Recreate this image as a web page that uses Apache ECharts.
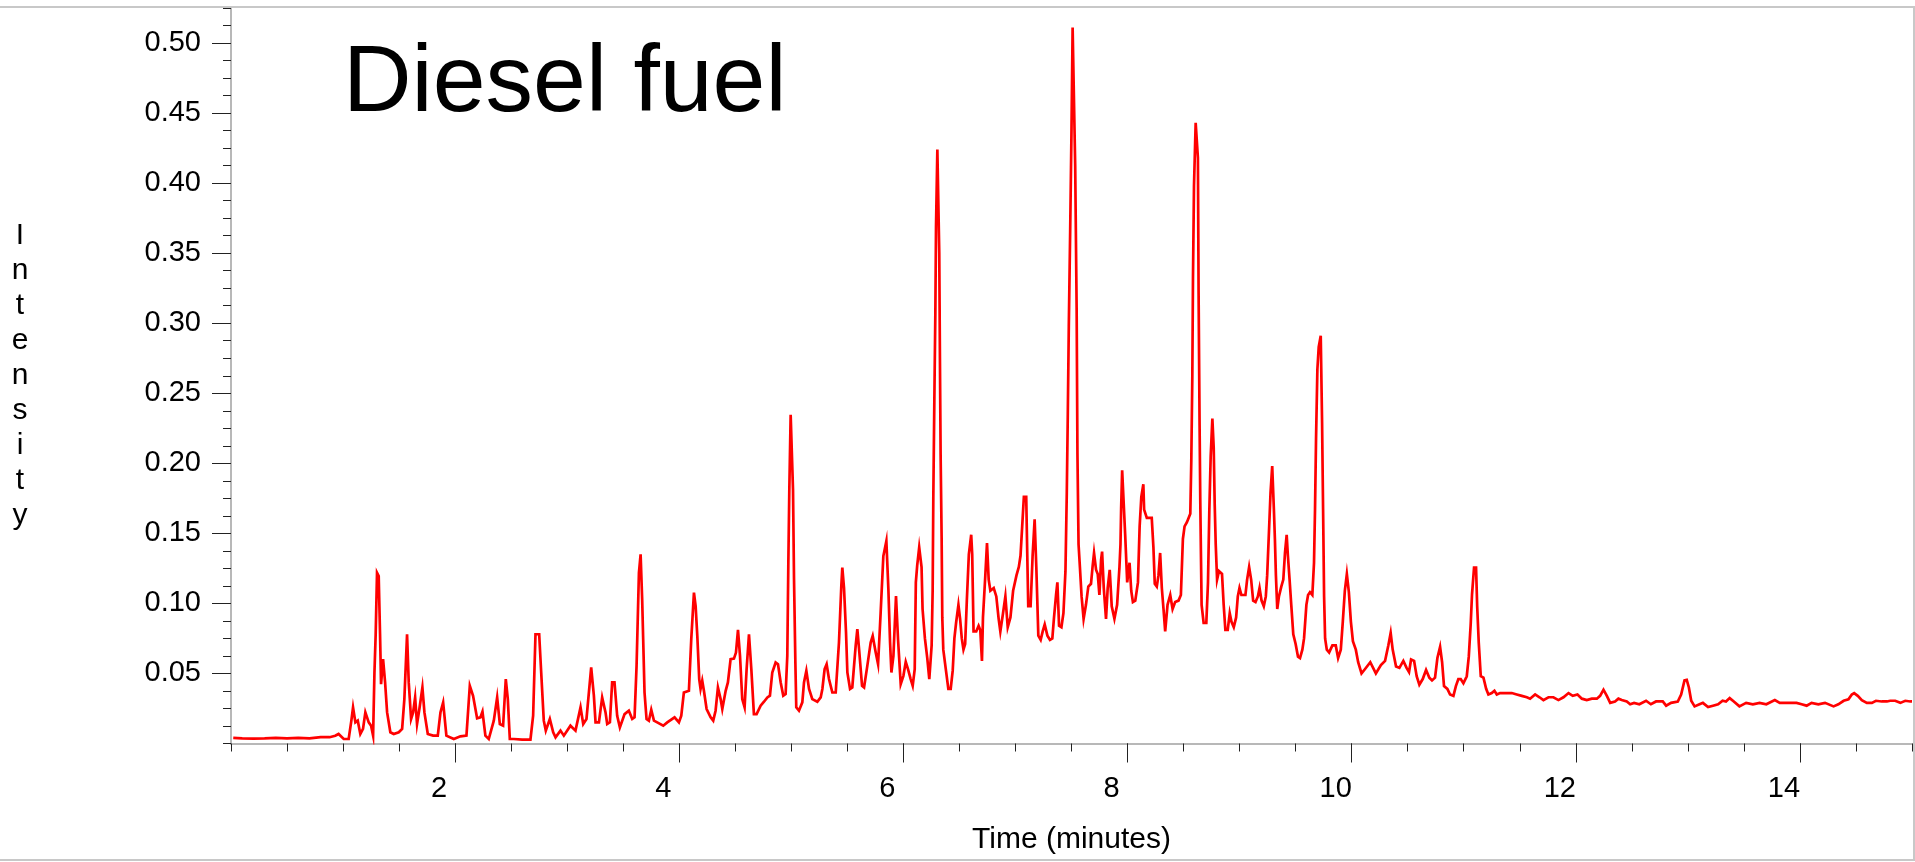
<!DOCTYPE html>
<html>
<head>
<meta charset="utf-8">
<script src="https://cdn.jsdelivr.net/npm/echarts@6/dist/echarts.min.js"></script>
<style>
html,body{margin:0;padding:0;background:#fff;}
#chart{width:1915px;height:862px;}
</style>
</head>
<body>
<div id="chart"></div>
<script>
// Retention time (minutes)
const times = [
0.02,0.10,0.20,0.30,0.40,0.50,0.60,0.70,0.80,0.88,0.93,0.96,
0.976,1.006,1.050,1.074,1.089,1.110,1.131,1.154,1.178,1.199,1.229,1.250,1.268,1.280,1.291,1.303,1.318,1.330,1.339,1.357,1.375,1.393,1.422,1.452,1.497,1.527,1.547,1.571,1.586,1.607,1.625,1.643,1.660,1.681,1.708,1.726,1.756,1.803,1.845,1.869,1.893,1.922,1.988,2.047,2.101,2.131,2.160,2.196,2.226,2.244,2.270,2.300,2.345,2.375,2.399,2.428,2.452,2.470,2.488,2.524,2.598,2.672,2.696,2.717,2.750,2.768,2.791,2.809,2.845,2.875,2.896,2.940,2.970,3.029,3.074,3.119,3.143,3.172,3.214,3.238,3.253,3.283,3.312,3.342,3.357,3.381,3.401,3.422,3.446,3.470,
3.476,3.512,3.550,3.580,3.601,3.619,3.640,3.655,3.669,3.678,3.690,3.708,3.729,3.750,3.774,3.803,3.857,3.893,3.958,3.997,4.018,4.041,4.086,4.107,4.131,4.146,4.161,4.178,4.190,4.205,4.220,4.244,4.280,4.303,4.324,4.345,4.369,4.384,4.414,4.434,4.458,4.488,4.506,4.524,4.542,4.562,4.583,4.601,4.622,4.643,4.666,4.690,4.726,4.756,4.786,4.809,4.830,4.860,4.881,4.905,4.928,4.949,4.964,4.973,4.982,4.994,5.006,5.015,5.024,5.036,5.044,5.068,5.098,5.113,5.134,5.158,5.187,5.232,5.262,5.277,5.297,5.315,5.336,5.366,5.396,5.425,5.446,5.455,5.470,5.488,5.500,5.524,5.544,5.574,5.589,5.607,5.631,5.649,5.678,5.708,5.726,5.753,5.774,5.797,5.821,5.848,5.866,5.881,5.893,5.911,5.934,5.952,5.976,6.000,6.021,6.041,6.065,6.083,6.101,
6.111,6.123,6.141,6.162,6.171,6.192,6.213,6.231,6.243,6.252,6.261,6.267,6.276,6.285,6.291,6.303,6.315,6.320,6.326,6.332,6.341,6.347,6.356,6.380,6.401,6.422,6.440,6.455,6.470,6.491,6.506,6.521,6.536,6.551,6.566,6.584,6.605,6.614,6.626,6.650,6.671,6.686,6.701,6.710,6.731,6.746,6.761,6.776,6.806,6.829,6.850,6.865,6.889,6.910,6.931,6.955,6.979,7.009,7.030,7.045,7.060,7.075,7.096,7.105,7.114,7.135,7.153,7.171,7.186,7.204,7.225,7.243,7.261,7.285,7.308,7.329,7.344,7.362,7.374,7.389,7.410,7.428,7.446,7.458,7.467,7.476,7.488,7.500,7.510,7.520,7.533,7.546,7.553,7.563,7.575,7.590,7.608,7.629,7.650,7.674,7.689,7.701,7.719,7.734,7.749,7.764,7.773,7.788,7.808,7.823,7.841,7.859,7.883,7.907,7.928,7.937,7.943,7.952,7.967,7.979,7.997,8.018,8.033,8.048,8.069,8.093,8.108,8.123,8.141,
8.148,8.172,8.216,8.231,8.243,8.261,8.276,8.291,8.306,8.321,8.336,8.357,8.381,8.402,8.425,8.455,8.476,8.494,8.509,8.530,8.545,8.560,8.569,8.578,8.584,8.593,8.608,8.619,8.628,8.634,8.643,8.649,8.655,8.661,8.679,8.703,8.718,8.730,8.742,8.757,8.769,8.778,8.787,8.799,8.816,8.843,8.858,8.873,8.894,8.912,8.927,8.948,8.969,8.984,8.999,9.016,9.052,9.067,9.085,9.103,9.121,9.142,9.163,9.178,9.196,9.216,9.234,9.246,9.264,9.276,9.291,9.306,9.315,9.324,9.336,9.351,9.372,9.390,9.405,9.420,9.431,9.446,9.461,9.479,9.500,9.521,9.539,9.560,9.575,9.596,9.611,9.628,9.649,9.664,9.673,9.682,9.694,9.706,9.724,9.736,9.745,9.754,9.763,9.778,9.799,9.828,9.858,9.879,9.903,9.921,9.939,9.957,9.975,9.993,10.011,10.037,10.058,10.088,10.118,10.166,10.216,10.261,
10.298,10.327,10.348,10.366,10.396,10.426,10.461,10.490,10.512,10.530,10.557,10.580,10.604,10.634,10.664,10.693,10.717,10.744,10.765,10.789,10.807,10.824,10.854,10.878,10.908,10.930,10.952,10.973,10.997,11.027,11.045,11.062,11.074,11.092,11.110,11.120,11.134,11.152,11.176,11.200,11.220,11.250,11.274,11.295,11.324,11.354,11.390,11.429,11.473,11.518,11.563,11.592,11.637,11.676,11.711,11.756,11.800,11.845,11.890,11.935,11.973,12.015,12.054,12.098,12.143,12.188,12.217,12.247,12.277,12.307,12.350,12.380,12.410,12.455,12.485,12.520,
12.567,12.627,12.670,12.716,12.776,12.806,12.850,12.910,12.940,12.970,12.990,13.009,13.030,13.060,13.104,13.134,13.180,13.224,13.270,13.310,13.340,13.373,13.410,13.460,13.520,13.580,13.640,13.700,13.776,13.820,13.895,13.970,14.015,14.060,14.104,14.164,14.224,14.300,14.343,14.390,14.433,14.463,14.484,14.516,14.552,14.597,14.642,14.678,14.730,14.776,14.806,14.850,14.896,14.940,14.985,15.000
];
// Detector intensity
const intensity = [
0.0040,0.0036,0.0035,0.0036,0.0040,0.0037,0.0040,0.0036,0.0045,0.0045,0.0055,0.0068,
0.0056,0.0032,0.0032,0.0163,0.0258,0.0151,0.0163,0.0068,0.0104,0.0222,0.0151,0.0127,0.0056,0.0507,0.0780,0.1219,0.1195,0.0780,0.0424,0.0602,0.0436,0.0222,0.0080,0.0068,0.0080,0.0104,0.0317,0.0780,0.0436,0.0175,0.0222,0.0329,0.0139,0.0246,0.0400,0.0222,0.0068,0.0056,0.0056,0.0222,0.0293,0.0056,0.0032,0.0051,0.0056,0.0412,0.0341,0.0180,0.0187,0.0228,0.0056,0.0032,0.0163,0.0329,0.0139,0.0127,0.0460,0.0317,0.0032,0.0032,0.0027,0.0027,0.0198,0.0780,0.0780,0.0507,0.0163,0.0092,0.0175,0.0080,0.0044,0.0092,0.0056,0.0127,0.0092,0.0258,0.0139,0.0175,0.0543,0.0341,0.0151,0.0151,0.0329,0.0222,0.0139,0.0151,0.0436,0.0436,0.0198,0.0115,
0.0115,0.0210,0.0234,0.0175,0.0187,0.0554,0.1219,0.1350,0.1029,0.0744,0.0364,0.0175,0.0163,0.0241,0.0163,0.0151,0.0127,0.0151,0.0187,0.0151,0.0198,0.0364,0.0376,0.0744,0.1077,0.0981,0.0768,0.0460,0.0389,0.0448,0.0376,0.0246,0.0187,0.0163,0.0234,0.0400,0.0317,0.0246,0.0376,0.0436,0.0602,0.0606,0.0649,0.0811,0.0626,0.0317,0.0258,0.0531,0.0780,0.0531,0.0210,0.0210,0.0270,0.0298,0.0329,0.0341,0.0507,0.0578,0.0566,0.0436,0.0341,0.0353,0.0626,0.1267,0.1813,0.2347,0.2335,0.1813,0.1172,0.0578,0.0258,0.0234,0.0294,0.0436,0.0519,0.0389,0.0317,0.0298,0.0329,0.0389,0.0531,0.0566,0.0460,0.0364,0.0364,0.0721,0.1124,0.1255,0.1112,0.0792,0.0507,0.0389,0.0400,0.0697,0.0816,0.0649,0.0412,0.0400,0.0554,0.0721,0.0768,0.0649,0.0566,0.0934,0.1338,0.1445,0.1100,0.0721,0.0507,0.0626,0.1053,0.0744,0.0424,0.0483,0.0583,0.0531,0.0460,0.0412,0.0531,
0.1150,0.1270,0.1400,0.1260,0.0960,0.0750,0.0610,0.0460,0.0460,0.0700,0.1090,0.1760,0.2440,0.3070,0.3690,0.4240,0.4240,0.3500,0.2750,0.2070,0.1480,0.0900,0.0670,0.0520,0.0390,0.0390,0.0520,0.0750,0.0860,0.0990,0.0890,0.0750,0.0670,0.0710,0.1020,0.1350,0.1490,0.1350,0.0800,0.0800,0.0840,0.0810,0.0590,0.0900,0.1200,0.1430,0.1170,0.1090,0.1110,0.1050,0.0890,0.0800,0.0930,0.1050,0.0830,0.0900,0.1090,0.1200,0.1260,0.1340,0.1550,0.1760,0.1760,0.1360,0.0980,0.0980,0.1340,0.1600,0.1260,0.0770,0.0740,0.0800,0.0850,0.0770,0.0740,0.0750,0.0900,0.1060,0.1150,0.0840,0.0830,0.0930,0.1230,0.1790,0.2350,0.2980,0.3650,0.4380,0.5110,0.5110,0.4120,0.3090,0.2070,0.1420,0.1260,0.1050,0.0890,0.0990,0.1120,0.1140,0.1270,0.1360,0.1240,0.1210,0.1060,0.1310,0.1370,0.1110,0.0890,0.1110,0.1240,0.0980,0.0890,0.0990,0.1260,0.1420,0.1680,0.1950,0.1940,0.1490,0.1150,0.1290,0.1090,0.1010,0.1020,0.1150,0.1550,0.1760,0.1850,
0.1670,0.1610,0.1610,0.1400,0.1140,0.1120,0.1200,0.1360,0.1110,0.0960,0.0800,0.0990,0.1060,0.0960,0.1010,0.1020,0.1060,0.1460,0.1550,0.1580,0.1610,0.1640,0.2020,0.2610,0.3320,0.3980,0.4430,0.4430,0.4180,0.3230,0.2270,0.1740,0.1350,0.0990,0.0860,0.0860,0.1150,0.1670,0.2050,0.2320,0.2110,0.1700,0.1420,0.1170,0.1230,0.1210,0.0990,0.0810,0.0810,0.0930,0.0870,0.0830,0.0900,0.1050,0.1110,0.1060,0.1060,0.1170,0.1260,0.1170,0.1020,0.1010,0.1050,0.1110,0.1020,0.0980,0.1050,0.1200,0.1550,0.1790,0.1980,0.1670,0.1460,0.1200,0.0960,0.1050,0.1120,0.1170,0.1360,0.1490,0.1340,0.1170,0.0990,0.0780,0.0710,0.0620,0.0610,0.0670,0.0750,0.0990,0.1060,0.1080,0.1060,0.1290,0.1670,0.2170,0.2670,0.2830,0.2910,0.2290,0.1670,0.1050,0.0750,0.0670,0.0650,0.0700,0.0700,0.0610,0.0670,0.0870,0.1090,0.1210,0.1080,0.0870,0.0730,0.0670,0.0580,0.0500,0.0530,0.0580,0.0500,0.0560,
0.0590,0.0700,0.0790,0.0670,0.0550,0.0540,0.0590,0.0540,0.0510,0.0600,0.0590,0.0480,0.0420,0.0460,0.0525,0.0470,0.0450,0.0470,0.0610,0.0690,0.0580,0.0410,0.0390,0.0350,0.0340,0.0410,0.0460,0.0460,0.0430,0.0480,0.0620,0.0850,0.1065,0.1255,0.1255,0.0980,0.0720,0.0480,0.0470,0.0390,0.0350,0.0360,0.0376,0.0350,0.0360,0.0360,0.0360,0.0360,0.0350,0.0340,0.0330,0.0320,0.0350,0.0330,0.0310,0.0330,0.0330,0.0310,0.0330,0.0360,0.0340,0.0350,0.0320,0.0310,0.0320,0.0320,0.0340,0.0384,0.0340,0.0290,0.0300,0.0320,0.0310,0.0300,0.0280,0.0290,
0.0280,0.0305,0.0280,0.0300,0.0300,0.0270,0.0290,0.0300,0.0350,0.0450,0.0454,0.0400,0.0305,0.0265,0.0280,0.0290,0.0260,0.0270,0.0280,0.0305,0.0300,0.0324,0.0300,0.0265,0.0290,0.0280,0.0290,0.0280,0.0310,0.0290,0.0290,0.0290,0.0280,0.0270,0.0290,0.0280,0.0290,0.0265,0.0280,0.0305,0.0315,0.0350,0.0360,0.0340,0.0310,0.0290,0.0290,0.0305,0.0300,0.0300,0.0305,0.0305,0.0290,0.0305,0.0300,0.0300
];
// Tick labels
const xTickLabels = [2, 4, 6, 8, 10, 12, 14];
const yTickLabels = [0.05, 0.10, 0.15, 0.20, 0.25, 0.30, 0.35, 0.40, 0.45, 0.50];
const titleText = 'Diesel fuel';
const xTitle = 'Time (minutes)';
const yTitle = 'Intensity';

const seriesData = times.map((t, i) => [t, intensity[i]]);
const FONT = 'Liberation Sans';
const chart = echarts.init(document.getElementById('chart'), null, {renderer: 'canvas'});

const option = {
  animation: false,
  backgroundColor: '#ffffff',
  textStyle: {fontFamily: FONT, color: '#000'},
  grid: {left: 231, right: 3, top: 8, bottom: 118.5, containLabel: false},
  xAxis: [
    {
      type: 'value', min: 0, max: 15, interval: 0.5, position: 'bottom',
      axisLine: {show: true, onZero: false, lineStyle: {color: '#b8b8b8', width: 2}},
      axisTick: {show: true, length: 8, lineStyle: {color: '#222', width: 1}},
      axisLabel: {show: false},
      splitLine: {show: false},
      name: xTitle, nameLocation: 'middle', nameGap: 96,
      nameTextStyle: {fontFamily: FONT, fontSize: 30, color: '#000', align: 'center', verticalAlign: 'middle'}
    },
    {
      type: 'value', min: 0, max: 15, interval: 2, position: 'bottom',
      axisLine: {show: false, onZero: false},
      axisTick: {show: true, customValues: xTickLabels, length: 19, lineStyle: {color: '#222', width: 1}},
      axisLabel: {
        show: true, customValues: xTickLabels, fontFamily: FONT, fontSize: 29, color: '#000',
        margin: 30, lineHeight: 30, padding: [0, 32, 0, 0],
        formatter: v => xTickLabels.indexOf(Math.round(v)) >= 0 && Math.abs(v - Math.round(v)) < 1e-6 ? String(Math.round(v)) : ''
      },
      splitLine: {show: false}
    }
  ],
  yAxis: [
    {
      type: 'value', min: 0, max: 0.525, interval: 0.0125, position: 'left',
      axisLine: {show: true, onZero: false, lineStyle: {color: '#b8b8b8', width: 2}},
      axisTick: {show: true, length: 8, lineStyle: {color: '#222', width: 1}},
      axisLabel: {show: false},
      splitLine: {show: false},
      name: yTitle.split('').join('\n'), nameLocation: 'middle', nameGap: 211, nameRotate: 0,
      nameTextStyle: {fontFamily: FONT, fontSize: 30, lineHeight: 35, color: '#000', align: 'center', verticalAlign: 'middle'}
    },
    {
      type: 'value', min: 0, max: 0.525, interval: 0.05, position: 'left',
      axisLine: {show: false, onZero: false},
      axisTick: {show: true, customValues: yTickLabels, length: 19, lineStyle: {color: '#222', width: 1}},
      axisLabel: {
        show: true, customValues: yTickLabels, fontFamily: FONT, fontSize: 29, color: '#000', margin: 30,
        formatter: v => {
          const ok = yTickLabels.some(t => Math.abs(t - v) < 1e-6);
          return ok ? v.toFixed(2) : '';
        }
      },
      splitLine: {show: false}
    }
  ],
  series: [{
    type: 'line',
    xAxisIndex: 0, yAxisIndex: 0,
    data: seriesData,
    showSymbol: false,
    symbol: 'none',
    smooth: false,
    clip: true,
    lineStyle: {color: '#ff0000', width: 2.7, join: 'miter'},
    itemStyle: {color: '#ff0000'}
  }],
  graphic: [
    {
      type: 'rect', z: 100, silent: true,
      shape: {x: -1, y: 7, width: 1915, height: 853},
      style: {fill: 'none', stroke: '#c8c8c8', lineWidth: 2}
    },
    {
      type: 'text', z: 100, x: 343, y: 85,
      style: {text: titleText, font: '95px "Liberation Sans"', fill: '#000', align: 'left', verticalAlign: 'middle'}
    }
  ]
};
chart.setOption(option);
</script>
</body>
</html>
